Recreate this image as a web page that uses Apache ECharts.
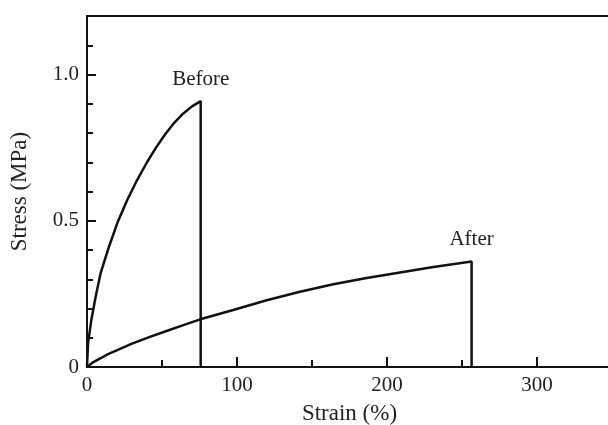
<!DOCTYPE html>
<html>
<head>
<meta charset="utf-8">
<script src="https://cdn.jsdelivr.net/npm/echarts@6/dist/echarts.min.js"></script>
<style>
  html, body { margin: 0; padding: 0; background: #fff; }
  #chart { width: 608px; height: 425px; }
</style>
</head>
<body>
<div id="chart"></div>
<script>
// strain (%) and stress (MPa)
const beforeStrain = [0, 0.7, 2.9, 5.8, 9.1, 14.7, 20.2, 26.9, 33.5, 40, 46, 52, 58, 64, 70, 75.8, 75.8]
const beforeStress = [0, 0.081, 0.161, 0.241, 0.321, 0.412, 0.492, 0.572, 0.640, 0.700, 0.750, 0.795, 0.834, 0.866, 0.891, 0.909, 0]
const afterStrain = [0, 4, 9.1, 14, 20.2, 30, 42.4, 53.5, 64.7, 75.5, 97.5, 119.8, 142, 164.2, 186.4, 208.7, 230.9, 256.4, 256.4]
const afterStress = [0, 0.016, 0.030, 0.044, 0.058, 0.08, 0.104, 0.124, 0.144, 0.163, 0.195, 0.228, 0.257, 0.283, 0.304, 0.323, 0.342, 0.361, 0]
const curveNames = ['Before', 'After']
const peakIndex = [15, 17]

const font = 'Liberation Serif'
const ink = '#222'

function toPoints(xs, ys, peak, name) {
  return xs.map((x, i) => {
    if (i !== peak) return [x, ys[i]]
    return {
      value: [x, ys[i]],
      label: { show: true, formatter: name, position: 'top', distance: 11,
               fontFamily: font, fontSize: 21, color: ink }
    }
  })
}

let chart = echarts.init(document.getElementById('chart'))

let tickAxis = (type, interval, len, labels) => {
  return {
    type: 'value',
    min: 0,
    max: type === 'x' ? 350 : 1.2,
    interval: interval,
    position: type === 'x' ? 'bottom' : 'left',
    axisLine: { show: labels, lineStyle: { color: '#111', width: 2 } },
    axisTick: { show: true, inside: true, length: len, lineStyle: { color: '#111', width: 2 } },
    splitLine: { show: false },
    axisLabel: {
      show: labels,
      fontFamily: font,
      fontSize: 21,
      color: ink,
      margin: 8,
      formatter: v => {
        if (type === 'x') return (v % 100 === 0 && v <= 300) ? String(v) : ''
        if (Math.abs(v) < 1e-9) return '0'
        if (Math.abs(v - 0.5) < 1e-9 || Math.abs(v - 1) < 1e-9) return v.toFixed(1)
        return ''
      }
    }
  }
}

let xMinor = tickAxis('x', 50, 7, true)
xMinor.name = 'Strain (%)'
xMinor.nameLocation = 'middle'
xMinor.nameGap = 35
xMinor.nameTextStyle = { fontFamily: font, fontSize: 23, color: ink }
let xMajor = tickAxis('x', 100, 10, false)

let yMinor = tickAxis('y', 0.1, 6, true)
yMinor.name = 'Stress (MPa)'
yMinor.nameLocation = 'middle'
yMinor.nameGap = 56
yMinor.nameTextStyle = { fontFamily: font, fontSize: 23, color: ink }
let yMajor = tickAxis('y', 0.5, 9, false)

let option = {
  animation: false,
  backgroundColor: '#fff',
  grid: {
    left: 87, top: 16, bottom: 58, width: 525,
    outerBoundsMode: 'none',
    containLabel: false,
    show: true, borderColor: '#111', borderWidth: 2, backgroundColor: 'transparent'
  },
  xAxis: [xMinor, xMajor],
  yAxis: [yMinor, yMajor],
  series: [
    {
      name: curveNames[0],
      type: 'line',
      data: toPoints(beforeStrain, beforeStress, peakIndex[0], curveNames[0]),
      symbol: 'circle',
      symbolSize: 0,
      showSymbol: true,
      lineStyle: { color: '#111', width: 2.5 },
      itemStyle: { color: '#111' }
    },
    {
      name: curveNames[1],
      type: 'line',
      data: toPoints(afterStrain, afterStress, peakIndex[1], curveNames[1]),
      symbol: 'circle',
      symbolSize: 0,
      showSymbol: true,
      lineStyle: { color: '#111', width: 2.5 },
      itemStyle: { color: '#111' }
    }
  ]
}

chart.setOption(option)
</script>
</body>
</html>
